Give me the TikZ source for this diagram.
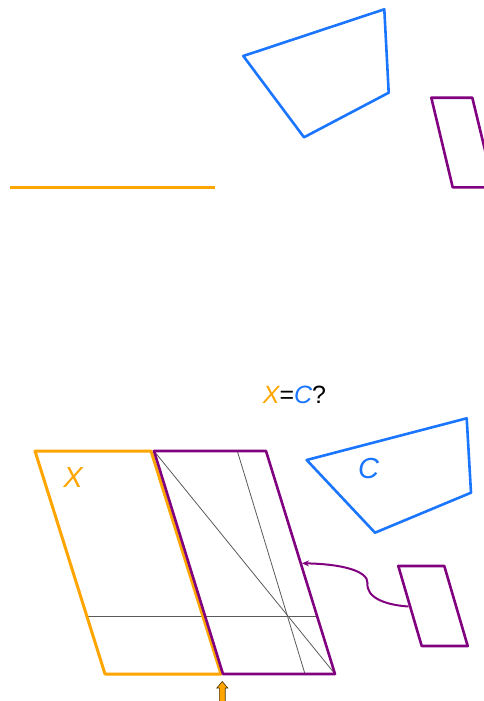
\documentclass[tikz,border=0pt]{standalone}
\usepackage{fontspec}
\setmainfont{Liberation Sans}
\usetikzlibrary{arrows.meta}
\definecolor{orng}{RGB}{255,165,0}
\definecolor{blu}{RGB}{26,117,255}
\definecolor{purp}{RGB}{128,0,128}
\definecolor{gry}{RGB}{90,90,90}
\begin{document}
\begin{tikzpicture}[x=1pt,y=-1pt,
  orangeline/.style={draw=orng,line width=3pt,line join=round},
  purpleline/.style={draw=purp,line width=2.6pt,line join=round},
  blueline/.style={draw=blu,line width=2.6pt,line join=round},
  thinline/.style={draw=gry,line width=0.8pt},
  lbl/.style={font=\fontsize{29}{30}\selectfont\itshape,inner sep=0pt}]
\useasboundingbox (0,0) rectangle (484,701);
\clip (0,0) rectangle (484,701);
% ---- top part ----
\coordinate (ol1) at (10,187);
\coordinate (ol2) at (215,187);
\draw[orangeline] (ol1) -- (ol2);
\coordinate (ba) at (243.3,56);
\coordinate (bb) at (384.3,9.3);
\coordinate (bc) at (388.7,92.7);
\coordinate (bd) at (304,137.3);
\draw[blueline] (ba) -- (bb) -- (bc) -- (bd) -- cycle;
\coordinate (pa) at (431.3,97.7);
\coordinate (pb) at (472.3,97.7);
\coordinate (pc) at (494,187.3);
\coordinate (pd) at (452.7,187.3);
\draw[purpleline] (pa) -- (pb) -- (pc) -- (pd) -- cycle;
% ---- title ----
\node[font=\fontsize{25}{26}\selectfont,inner sep=0pt] (title) at (294.5,395)
  {\textcolor{orng}{\itshape X}=\textcolor{blu}{\itshape C}?};
% ---- bottom part ----
\coordinate (xa) at (35,451);
\coordinate (xb) at (151,451);
\coordinate (xc) at (221,674);
\coordinate (xd) at (105,674);
\coordinate (ya) at (154,451);
\coordinate (yb) at (266,451);
\coordinate (yc) at (335,674);
\coordinate (yd) at (223,674);
% inner construction lines
\coordinate (h1) at (87,616);
\coordinate (h2) at (318,616);
\coordinate (v1) at (237.3,451);
\coordinate (v2) at (305,674);
\draw[thinline] (h1) -- (h2);
\draw[thinline] (ya) -- (yc);
\draw[thinline] (v1) -- (v2);
\draw[orangeline] (xa) -- (xb) -- (xc) -- (xd) -- cycle;
\draw[purpleline] (ya) -- (yb) -- (yc) -- (yd) -- cycle;
\node[lbl,text=orng] (xl) at (73,478) {X};
% blue quad with C
\coordinate (qa) at (306.7,460);
\coordinate (qb) at (466.7,418.3);
\coordinate (qc) at (471,492.7);
\coordinate (qd) at (375,532.7);
\draw[blueline] (qa) -- (qb) -- (qc) -- (qd) -- cycle;
\node[lbl,text=blu] (cl) at (368.7,468.5) {C};
% small purple parallelogram
\coordinate (sa) at (398.3,566);
\coordinate (sb) at (444.3,566);
\coordinate (sc) at (467.7,646);
\coordinate (sd) at (421.7,646);
\draw[purpleline] (sa) -- (sb) -- (sc) -- (sd) -- cycle;
% curved arrow
\coordinate (as) at (408.5,606.5);
\coordinate (am) at (367.5,583);
\coordinate (ae) at (302,563.3);
\draw[draw=purp,line width=2pt,-{Stealth[length=7pt,width=6pt]}]
  (as) .. controls (386,605) and (366,598) .. (am)
       .. controls (368,571) and (342,564) .. (ae);
% orange up arrow
\coordinate (ua) at (222.3,681.5);
\filldraw[fill=orng,draw=black!70!orng,line width=0.6pt,line join=miter]
  (ua) -- (227.8,688) -- (225.2,688) -- (225.2,705) -- (219.4,705) -- (219.4,688) -- (216.8,688) -- cycle;
\end{tikzpicture}
\end{document}
